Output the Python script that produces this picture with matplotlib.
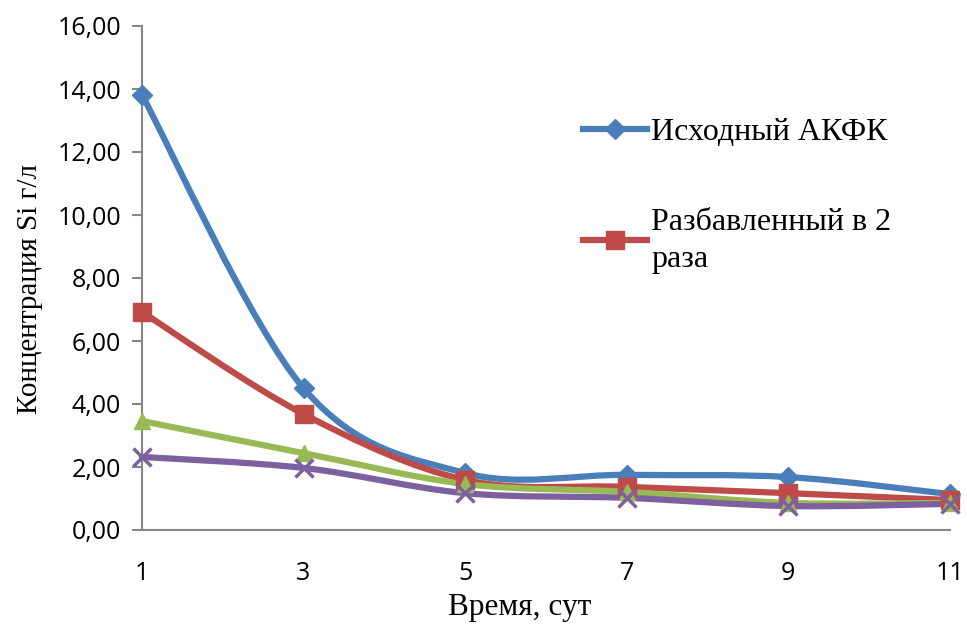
import numpy as np
import matplotlib
matplotlib.use('Agg')
import matplotlib.pyplot as plt
from matplotlib.path import Path
from matplotlib.patches import PathPatch
from matplotlib.ticker import FuncFormatter

# Время, сут
days = [1, 3, 5, 7, 9, 11]

# Концентрация Si, г/л
ishodny = [13.81, 4.50, 1.81, 1.75, 1.68, 1.14]
razb2 = [6.92, 3.68, 1.59, 1.37, 1.17, 0.95]
razb3 = [3.46, 2.44, 1.46, 1.21, 0.86, 0.86]
razb4 = [2.32, 1.97, 1.17, 1.02, 0.76, 0.83]

labels = ['Исходный АКФК', 'Разбавленный в 2\nраза', None, None]
colors = ['#4a7ebb', '#be4b48', '#98b954', '#7d60a0']
markers = ['D', 's', '^', 'x']
msizes = [10, 13, 12, 13]


# сглаженная линия как в Excel (кривые Безье через точки)
def smooth_path(x, y, t=1 / 6):
    x = np.asarray(x, float)
    y = np.asarray(y, float)
    n = len(x)
    verts = [(x[0], y[0])]
    codes = [Path.MOVETO]
    for i in range(n - 1):
        p0 = i - 1 if i > 0 else i
        p3 = i + 2 if i + 2 < n else i + 1
        c1 = (x[i] + (x[i + 1] - x[p0]) * t, y[i] + (y[i + 1] - y[p0]) * t)
        c2 = (x[i + 1] - (x[p3] - x[i]) * t, y[i + 1] - (y[p3] - y[i]) * t)
        verts += [c1, c2, (x[i + 1], y[i + 1])]
        codes += [Path.CURVE4] * 3
    return Path(verts, codes)


fig = plt.figure(figsize=(9.67, 6.25), dpi=100)
ax = fig.add_axes([0.1468, 0.152, 0.8356, 0.8064])

series = [ishodny, razb2, razb3, razb4]
for vals, lab, c, m, ms in zip(series, labels, colors, markers, msizes):
    ax.add_patch(PathPatch(smooth_path(days, vals), fill=False, edgecolor=c,
                           lw=4.5, capstyle='round', joinstyle='round',
                           zorder=2, clip_on=False))
    ax.plot(days, vals, ls='none', marker=m, color=c, ms=ms,
            mew=2.5 if m == 'x' else 1, zorder=3, clip_on=False)
    if lab:
        ax.plot([], [], color=c, lw=4.5, marker=m, ms=ms, label=lab)

ax.set_xlim(1, 11)
ax.set_ylim(0, 16)
ax.set_xticks(days)
ax.set_yticks(np.arange(0, 17, 2))
ax.yaxis.set_major_formatter(FuncFormatter(lambda v, p: f'{v:.2f}'.replace('.', ',')))

for s in ['top', 'right']:
    ax.spines[s].set_visible(False)
for s in ['left', 'bottom']:
    ax.spines[s].set_color('#868686')
    ax.spines[s].set_linewidth(1.5)
    ax.spines[s].set_zorder(1)
ax.tick_params(axis='y', direction='out', length=7, width=1.5, color='#868686',
               labelsize=18, pad=8)
ax.tick_params(axis='x', length=0, labelsize=18, pad=22)
for t in ax.get_xticklabels() + ax.get_yticklabels():
    t.set_fontfamily('Open Sans')

serif = 'Liberation Serif'
ax.set_xlabel('Время, сут', fontsize=22.5, family=serif)
ax.set_ylabel('Концентрация Si г/л', fontsize=21, family=serif)
ax.xaxis.set_label_coords(0.468, -0.125)
ax.yaxis.set_label_coords(-0.122, 0.478)

leg = ax.legend(loc='upper left', bbox_to_anchor=(0.51, 0.875), frameon=False,
                prop={'family': serif, 'size': 23}, handlelength=2.0,
                handletextpad=0.15, labelspacing=1.9)
for t in leg.get_texts():
    t.set_linespacing(1.35)

fig.savefig('out.png', dpi=100)
